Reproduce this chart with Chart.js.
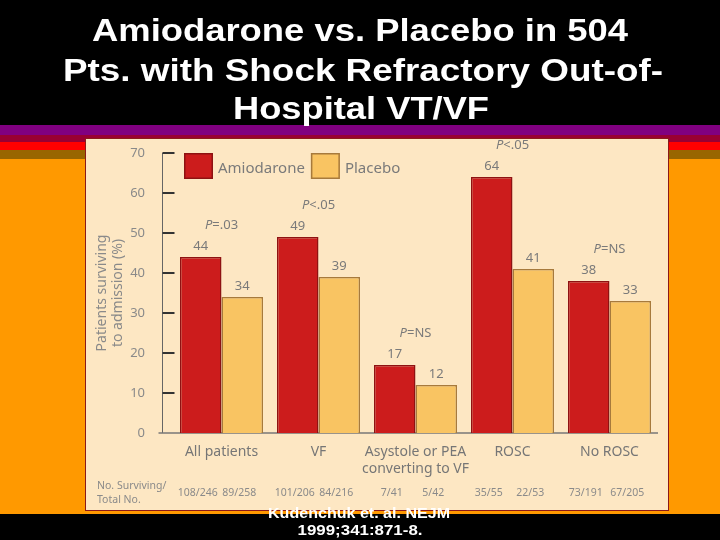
<!DOCTYPE html>
<html>
<head>
<meta charset="utf-8">
<title>Amiodarone vs. Placebo</title>
<script src="https://cdn.jsdelivr.net/npm/chart.js@4.4.1/dist/chart.umd.min.js"></script>
<style>
  html, body { margin: 0; padding: 0; background: #000; }
  #chart { display: block; }
</style>
</head>
<body>
<canvas id="chart" width="720" height="540"></canvas>
<script>
// Datos
const titleLines = [
  "Amiodarone vs. Placebo in 504",
  "Pts. with Shock Refractory Out-of-",
  "Hospital VT/VF",
];
const categories = [
  ["All patients"],
  ["VF"],
  ["Asystole or PEA", "converting to VF"],
  ["ROSC"],
  ["No ROSC"],
];
const amiodarone = [44, 49, 17, 64, 38];
const placebo = [34, 39, 12, 41, 33];
const pValues = ["=.03", "<.05", "=NS", "<.05", "=NS"];
const amioCounts = ["108/246", "101/206", "7/41", "35/55", "73/191"];
const placeboCounts = ["89/258", "84/216", "5/42", "22/53", "67/205"];
const yTicks = [0, 10, 20, 30, 40, 50, 60, 70];
const citation = ["Kudenchuk et. al. NEJM", "1999;341:871-8."];

const FONT = "'Noto Sans', sans-serif";
const GREY = "#7a7a7a";

// Texto ensanchado (el título original es más ancho que Arial)
function wideText(ctx, text, x, y, width) {
  const w = ctx.measureText(text).width;
  ctx.save();
  ctx.translate(x, y);
  ctx.scale(width / w, 1);
  ctx.fillText(text, 0, 0);
  ctx.restore();
}

// Leyenda dibujada dentro del área, con los colores de los datasets
function drawLegend(chart) {
  const ctx = chart.ctx;
  const area = chart.chartArea;
  let lx = area.left + 11;
  const ly = area.top;
  ctx.save();
  ctx.font = "15px " + FONT;
  ctx.textBaseline = "middle";
  ctx.textAlign = "left";
  chart.data.datasets.forEach((ds) => {
    ctx.fillStyle = ds.backgroundColor;
    ctx.fillRect(lx, ly, 29, 26);
    ctx.strokeStyle = ds.borderColor;
    ctx.lineWidth = 1.5;
    ctx.strokeRect(lx + 0.75, ly + 0.75, 27.5, 24.5);
    ctx.fillStyle = GREY;
    ctx.fillText(ds.label, lx + 34, ly + 16);
    lx += 34 + ctx.measureText(ds.label).width + 6;
  });
  ctx.restore();
}

const slidePlugin = {
  id: "slide",
  beforeDraw(chart) {
    const ctx = chart.ctx;
    ctx.save();
    ctx.fillStyle = "#000";
    ctx.fillRect(0, 0, 720, 540);
    // franjas
    ctx.fillStyle = "#800080";
    ctx.fillRect(0, 125, 720, 10);
    ctx.fillStyle = "#990033";
    ctx.fillRect(0, 135, 720, 7);
    ctx.fillStyle = "#ff0000";
    ctx.fillRect(0, 142, 720, 8);
    ctx.fillStyle = "#996600";
    ctx.fillRect(0, 150, 720, 9);
    ctx.fillStyle = "#ff9900";
    ctx.fillRect(0, 159, 720, 355);
    // panel crema
    ctx.fillStyle = "#fde7c3";
    ctx.fillRect(85, 138, 583, 372);
    ctx.strokeStyle = "#8b1a1a";
    ctx.lineWidth = 1;
    ctx.strokeRect(85.5, 138.5, 583, 372);
    // título
    ctx.fillStyle = "#fff";
    ctx.font = "bold 32px 'Liberation Sans', Arial, sans-serif";
    ctx.textAlign = "center";
    ctx.textBaseline = "alphabetic";
    wideText(ctx, titleLines[0], 360, 41, 536);
    wideText(ctx, titleLines[1], 363, 81, 600);
    wideText(ctx, titleLines[2], 361, 119, 256);
    ctx.restore();
  },
  beforeDatasetsDraw(chart) {
    const ctx = chart.ctx;
    const y = chart.scales.y;
    const area = chart.chartArea;
    const axisX = area.left - 10.5;
    ctx.save();
    ctx.strokeStyle = "#666";
    ctx.lineWidth = 1;
    ctx.beginPath();
    ctx.moveTo(axisX, y.getPixelForValue(70));
    ctx.lineTo(axisX, y.getPixelForValue(0));
    ctx.stroke();
    ctx.strokeStyle = "#333";
    ctx.lineWidth = 2;
    yTicks.slice(1).forEach((v) => {
      const py = Math.round(y.getPixelForValue(v));
      ctx.beginPath();
      ctx.moveTo(axisX, py);
      ctx.lineTo(axisX + 12, py);
      ctx.stroke();
    });
    // línea base
    ctx.strokeStyle = "#777";
    ctx.lineWidth = 1.5;
    ctx.beginPath();
    ctx.moveTo(axisX - 4, y.getPixelForValue(0));
    ctx.lineTo(area.right, y.getPixelForValue(0));
    ctx.stroke();
    ctx.restore();
    drawLegend(chart);
  },
  afterDatasetsDraw(chart) {
    const ctx = chart.ctx;
    const x = chart.scales.x;
    const metaA = chart.getDatasetMeta(0);
    const metaP = chart.getDatasetMeta(1);
    ctx.save();
    ctx.fillStyle = GREY;
    ctx.textBaseline = "middle";
    ctx.textAlign = "center";
    ctx.font = "13px " + FONT;
    // valores sobre las barras
    [metaA, metaP].forEach((meta, d) => {
      meta.data.forEach((bar, i) => {
        const v = chart.data.datasets[d].data[i];
        ctx.fillText(String(v), bar.x, bar.y - 11);
      });
    });
    // valores P
    categories.forEach((c, i) => {
      const cx = x.getPixelForValue(i);
      const top = Math.min(metaA.data[i].y, metaP.data[i].y) - 32;
      ctx.font = "italic 13px " + FONT;
      const pw = ctx.measureText("P").width;
      ctx.font = "13px " + FONT;
      const rw = ctx.measureText(pValues[i]).width;
      const start = cx - (pw + rw) / 2;
      ctx.textAlign = "left";
      ctx.font = "italic 13px " + FONT;
      ctx.fillText("P", start, top);
      ctx.font = "13px " + FONT;
      ctx.fillText(pValues[i], start + pw, top);
      ctx.textAlign = "center";
    });
    // recuentos
    ctx.font = "10.5px " + FONT;
    ctx.fillStyle = "#8a8a8a";
    metaA.data.forEach((bar, i) => {
      ctx.fillText(amioCounts[i], bar.x - 3, 493);
      ctx.fillText(placeboCounts[i], metaP.data[i].x - 3, 493);
    });
    ctx.textAlign = "left";
    ctx.fillText("No. Surviving/", 97, 486);
    ctx.fillText("Total No.", 97, 500);
    ctx.restore();
  },
  afterDraw(chart) {
    const ctx = chart.ctx;
    ctx.save();
    ctx.fillStyle = "#000";
    ctx.fillRect(0, 514, 720, 26);
    ctx.fillStyle = "#fff";
    ctx.textAlign = "center";
    ctx.textBaseline = "alphabetic";
    ctx.font = "bold 15px 'Liberation Sans', Arial, sans-serif";
    wideText(ctx, citation[0], 359, 518, 182);
    wideText(ctx, citation[1], 360, 535, 125);
    ctx.restore();
  },
};

const ctx = document.getElementById("chart").getContext("2d");
new Chart(ctx, {
  type: "bar",
  data: {
    labels: categories,
    datasets: [
      {
        label: "Amiodarone",
        data: amiodarone,
        backgroundColor: "#cc1c1c",
        borderColor: "#8e1212",
        borderWidth: 1.5,
        categoryPercentage: 0.856,
        barPercentage: 1.0,
      },
      {
        label: "Placebo",
        data: placebo,
        backgroundColor: "#f9c462",
        borderColor: "#a77a3c",
        borderWidth: 1.5,
        categoryPercentage: 0.856,
        barPercentage: 1.0,
      },
    ],
  },
  options: {
    responsive: false,
    animation: false,
    layout: {
      padding: { top: 153, right: 62, bottom: 0, left: 0 },
    },
    scales: {
      x: {
        grid: { display: false },
        border: { display: false },
        ticks: {
          color: "#767676",
          autoSkip: false,
          maxRotation: 0,
          padding: 3,
          font: { family: FONT, size: 14, lineHeight: 1.2 },
        },
        afterFit: (scale) => {
          scale.height = 107;
        },
      },
      y: {
        min: 0,
        max: 70,
        grid: { display: false },
        border: { display: false },
        ticks: {
          stepSize: 10,
          color: "#8a8a8a",
          padding: 20,
          font: { family: FONT, size: 13 },
        },
        title: {
          display: true,
          text: ["Patients surviving", "to admission (%)"],
          color: "#8a8a8a",
          padding: { top: 94, bottom: 0 },
          font: { family: FONT, size: 14, lineHeight: 1.15 },
        },
        afterFit: (scale) => {
          scale.width = 173;
        },
      },
    },
    plugins: {
      legend: { display: false },
      tooltip: { enabled: false },
    },
  },
  plugins: [slidePlugin],
});
</script>
</body>
</html>
